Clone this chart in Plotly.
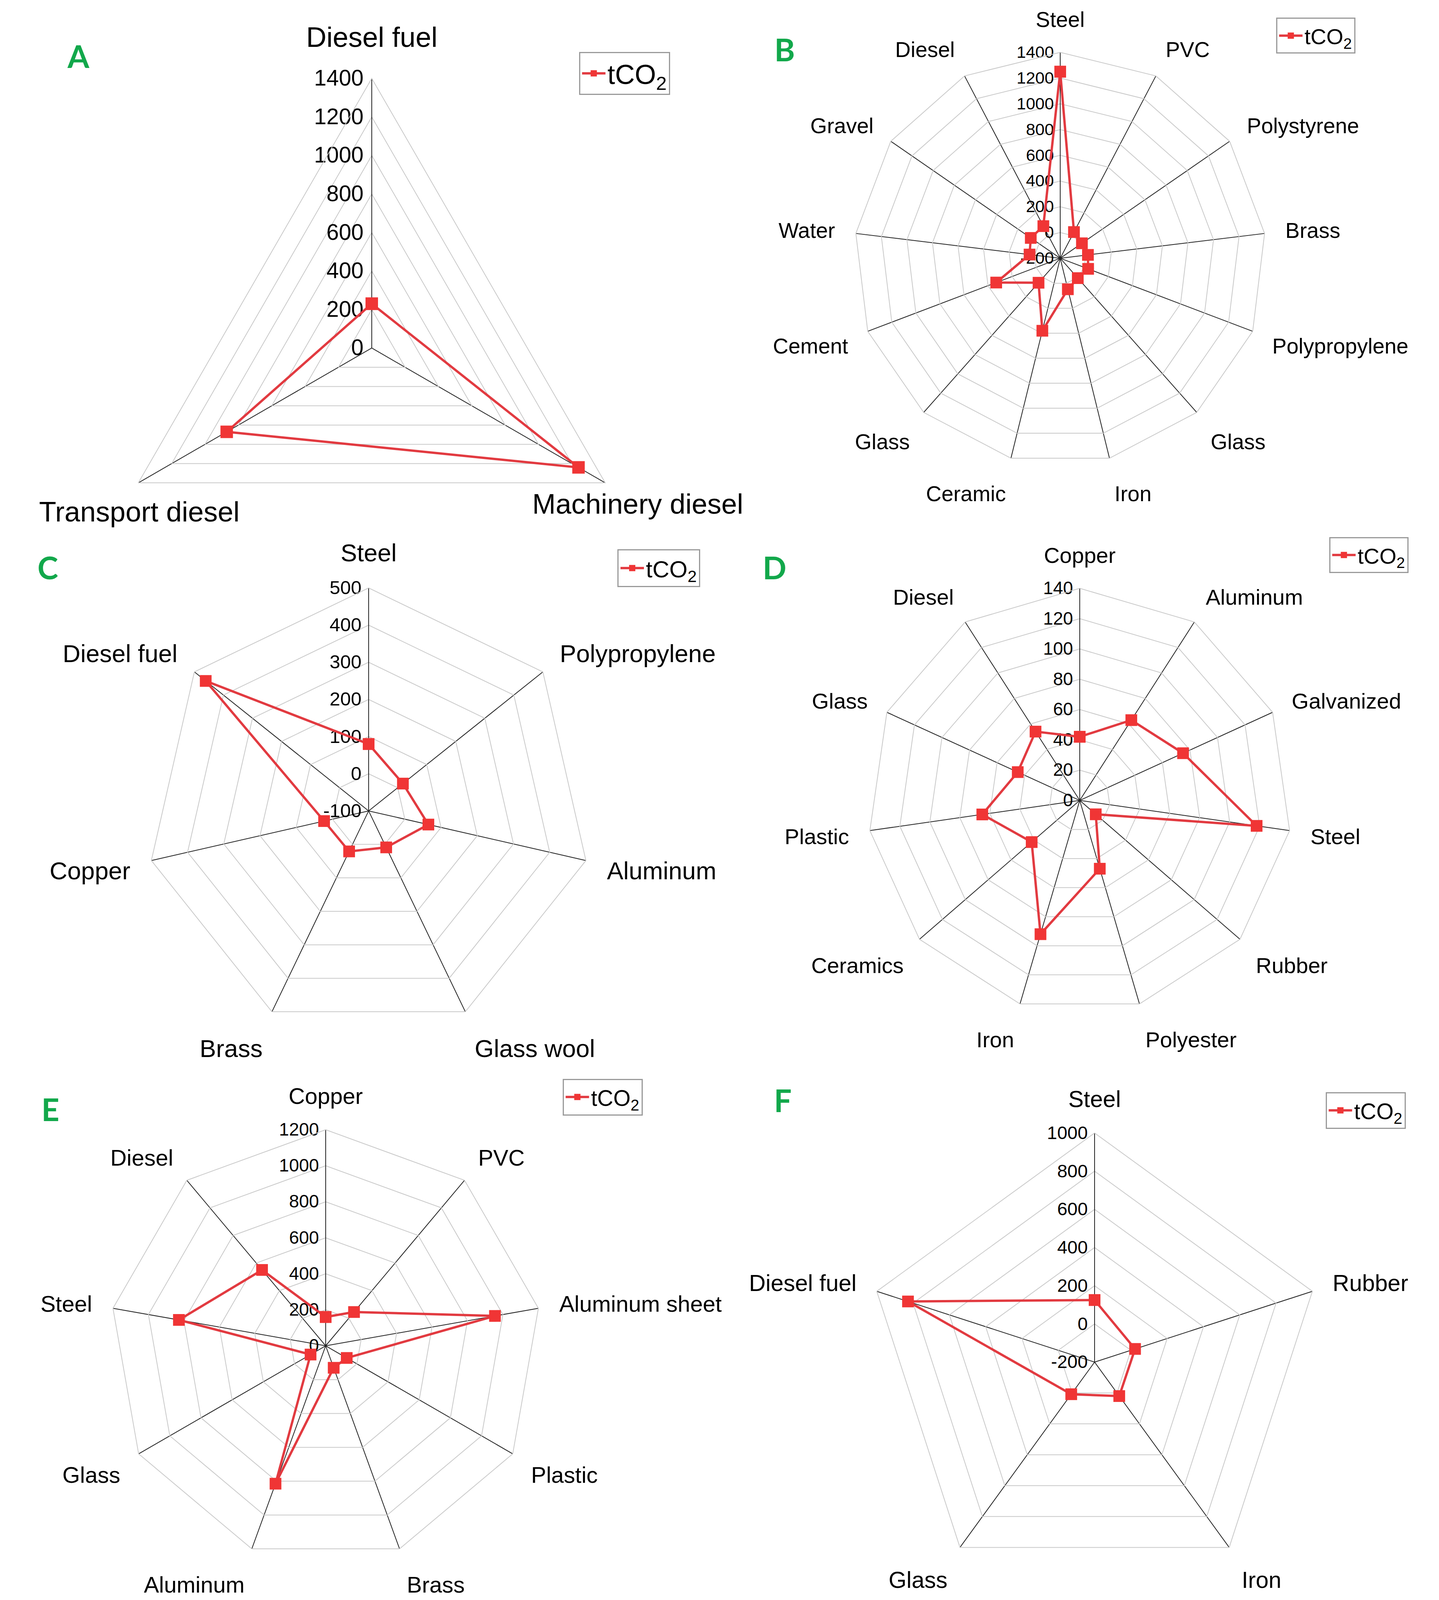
import plotly.graph_objects as go

W = 3685
H_REF = 4421
H = 4096                     # visible height of the rendered page
S = H / H_REF                # scale from reference pixel rows to figure pixels

# ---------------- data ----------------
a_labels = ["Diesel fuel", "Machinery diesel", "Transport diesel"]
a_values = [230, 1240, 870]
a_ticks = [0, 200, 400, 600, 800, 1000, 1200, 1400]

b_labels = ["Steel", "PVC", "Polystyrene", "Brass", "Polypropylene", "Glass", "Iron",
            "Ceramic", "Glass", "Cement", "Water", "Gravel", "Diesel"]
b_values = [1250, 30, 5, 17, 32, 6, 48, 380, 54, 332, 40, 78, 82]
b_ticks = [-200, 0, 200, 400, 600, 800, 1000, 1200, 1400]

c_labels = ["Steel", "Polypropylene", "Aluminum", "Glass wool", "Brass", "Copper", "Diesel fuel"]
c_values = [80, 18, 65, 9, 21, 23, 461]
c_ticks = [-100, 0, 100, 200, 300, 400, 500]

d_labels = ["Copper", "Aluminum", "Galvanized", "Steel", "Rubber", "Polyester", "Iron",
            "Ceramics", "Plastic", "Glass", "Diesel"]
d_values = [42, 63, 75, 118, 14, 47, 92, 42, 65, 45, 54]
d_ticks = [0, 20, 40, 60, 80, 100, 120, 140]

e_labels = ["Copper", "PVC", "Aluminum sheet", "Plastic", "Brass", "Aluminum", "Glass",
            "Steel", "Diesel"]
e_values = [160, 245, 955, 135, 130, 815, 97, 828, 550]
e_ticks = [0, 200, 400, 600, 800, 1000, 1200]

f_labels = ["Steel", "Rubber", "Iron", "Glass", "Diesel fuel"]
f_values = [125, 23, 20, 8, 828]
f_ticks = [-200, 0, 200, 400, 600, 800, 1000]

series_name = "tCO<sub>2</sub>"
panel_letters = ["A", "B", "C", "D", "E", "F"]

# ---------------- layout config (reference pixel coordinates) ----------------
panels = [
    dict(labels=a_labels, values=a_values, ticks=a_ticks, cx=944, cy=953, R=745,
         lfs=72, tfs=57, tl=70, letter=(192, 146), legend=(1591, 194), legfs=70, ms=32,
         label_pos=[(944, 94), (1625, 1384), (349, 1405)]),
    dict(labels=b_labels, values=b_values, ticks=b_ticks, cx=2707, cy=705, R=569,
         lfs=55, tfs=43, tl=45, letter=(2002, 127), legend=(3361, 90), legfs=56, ms=30),
    dict(labels=c_labels, values=c_values, ticks=c_ticks, cx=936, cy=2232, R=616,
         lfs=63, tfs=49, tl=45, letter=(114, 1559), legend=(1679, 1561), legfs=60, ms=30),
    dict(labels=d_labels, values=d_values, ticks=d_ticks, cx=2757, cy=2203, R=586,
         lfs=56, tfs=46, tl=45, letter=(1975, 1559), legend=(3497, 1525), legfs=56, ms=30),
    dict(labels=e_labels, values=e_values, ticks=e_ticks, cx=826, cy=3710, R=597,
         lfs=58, tfs=46, tl=45, letter=(121, 3056), legend=(1535, 3023), legfs=57, ms=30),
    dict(labels=f_labels, values=f_values, ticks=f_ticks, cx=2795, cy=3755, R=633,
         lfs=59, tfs=47, tl=45, letter=(1996, 3031), legend=(3489, 3060), legfs=57, ms=30),
]

LINE_COLOR = "#e23a40"
MARKER_COLOR = "#f03535"
SPOKE_COLOR = "#222222"
RING_COLOR = "#c9c9c9"
FONT = "Liberation Sans"


def py(v):
    return v * S


fig = go.Figure()
layout_updates = {}
annotations = []

for i, p in enumerate(panels):
    n = len(p["labels"])
    keys = [str(k) for k in range(n)]
    theta = keys + [keys[0]]
    r = list(p["values"]) + [p["values"][0]]
    pk = "polar" if i == 0 else f"polar{i+1}"
    lk = "legend" if i == 0 else f"legend{i+1}"
    fig.add_trace(go.Scatterpolar(
        r=r, theta=theta, mode="lines+markers", name=series_name,
        line=dict(color=LINE_COLOR, width=6),
        marker=dict(symbol="square", size=p["ms"], color=MARKER_COLOR),
        subplot=pk, legend=lk, showlegend=True, cliponaxis=True,
    ))
    cx, cy, R = p["cx"], py(p["cy"]), py(p["R"])
    use_ann = "label_pos" in p
    ticks = p["ticks"]
    layout_updates[pk] = dict(
        domain=dict(x=[(cx - R) / W, (cx + R) / W],
                    y=[1 - (cy + R) / H, 1 - (cy - R) / H]),
        gridshape="linear",
        bgcolor="white",
        angularaxis=dict(
            type="category", categoryorder="array", categoryarray=keys,
            tickmode="array", tickvals=keys, ticktext=p["labels"],
            showticklabels=not use_ann,
            direction="clockwise", rotation=90,
            showgrid=True, gridcolor=SPOKE_COLOR, gridwidth=2,
            showline=True, linecolor=RING_COLOR, linewidth=2,
            ticks="outside", ticklen=py(p["tl"]), tickcolor="rgba(0,0,0,0)",
            tickfont=dict(family=FONT, size=p["lfs"], color="black"),
        ),
        radialaxis=dict(
            range=[ticks[0], ticks[-1]],
            tickmode="array", tickvals=ticks, ticktext=[str(t) for t in ticks],
            showgrid=True, gridcolor=RING_COLOR, gridwidth=2,
            showline=True, linecolor=SPOKE_COLOR, linewidth=2,
            angle=90, side="counterclockwise", tickangle=90, ticks="",
            tickfont=dict(family=FONT, size=p["tfs"], color="black"),
            layer="below traces",
        ),
    )
    if use_ann:
        for lab, (lx_, ly_) in zip(p["labels"], p["label_pos"]):
            annotations.append(dict(
                x=lx_ / W, y=1 - py(ly_) / H, xref="paper", yref="paper",
                text=lab, showarrow=False, xanchor="center", yanchor="middle",
                font=dict(family=FONT, size=p["lfs"], color="black"),
            ))
    lx, ly = p["legend"]
    layout_updates[lk] = dict(
        x=lx / W, y=1 - py(ly) / H, xanchor="center", yanchor="middle",
        bordercolor="#9a9a9a", borderwidth=3, bgcolor="white",
        itemwidth=60,
        font=dict(family=FONT, size=p["legfs"], color="black"),
    )
    ax, ay = p["letter"]
    annotations.append(dict(
        x=ax / W, y=1 - py(ay) / H, xref="paper", yref="paper",
        text=f"<b>{panel_letters[i]}</b>", showarrow=False,
        xanchor="center", yanchor="middle",
        font=dict(family="Lato", size=80, color="#12a84b"),
    ))

fig.update_layout(
    width=W, height=H,
    margin=dict(l=0, r=0, t=0, b=0),
    paper_bgcolor="white",
    plot_bgcolor="white",
    annotations=annotations,
    **layout_updates,
)

fig.write_html("out.html")
